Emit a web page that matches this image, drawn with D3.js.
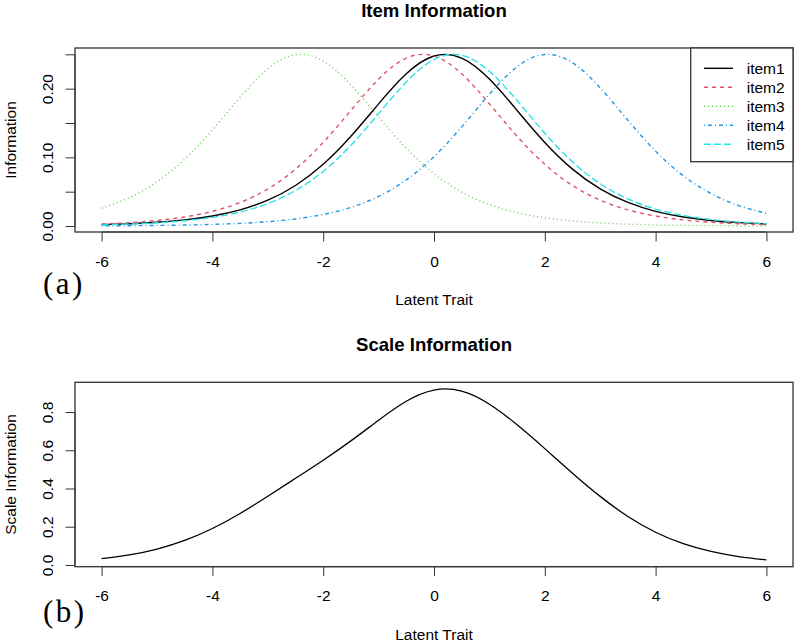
<!DOCTYPE html>
<html>
<head>
<meta charset="utf-8">
<script src="https://cdn.jsdelivr.net/npm/d3@7"></script>
<style>
  html, body { margin: 0; padding: 0; background: #fff; }
  svg { display: block; }
  text { font-family: "Liberation Sans", Arial, sans-serif; fill: #000; }
</style>
</head>
<body>
<svg id="chart" width="796" height="642"></svg>
<script>
// ---- data ----
const theta = [-6,-5.5,-5,-4.5,-4,-3.5,-3,-2.5,-2,-1.5,-1,-0.5,0,0.5,1,1.5,2,2.5,3,3.5,4,4.5,5,5.5,6];
const item1 = [0.0020,0.0033,0.0055,0.0089,0.0146,0.0235,0.0376,0.0590,0.0898,0.1306,0.1779,0.2217,0.2475,0.2445,0.2139,0.1683,0.1217,0.0828,0.0540,0.0343,0.0214,0.0132,0.0081,0.0049,0.0030];
const item2 = [0.0030,0.0049,0.0081,0.0132,0.0214,0.0343,0.0540,0.0828,0.1217,0.1683,0.2139,0.2445,0.2475,0.2217,0.1779,0.1306,0.0898,0.0590,0.0376,0.0235,0.0146,0.0089,0.0055,0.0033,0.0020];
const item3 = [0.0259,0.0412,0.0644,0.0972,0.1398,0.1874,0.2288,0.2494,0.2403,0.2055,0.1587,0.1132,0.0763,0.0494,0.0313,0.0194,0.0120,0.0073,0.0045,0.0027,0.0017,0.0010,0.0006,0.0004,0.0002];
const item4 = [0.0003,0.0005,0.0009,0.0014,0.0024,0.0039,0.0063,0.0103,0.0168,0.0271,0.0432,0.0672,0.1010,0.1444,0.1920,0.2320,0.2498,0.2378,0.2011,0.1539,0.1090,0.0731,0.0473,0.0298,0.0185];
const item5 = [0.0017,0.0029,0.0047,0.0077,0.0126,0.0204,0.0327,0.0517,0.0795,0.1174,0.1635,0.2098,0.2425,0.2486,0.2253,0.1827,0.1352,0.0934,0.0616,0.0394,0.0247,0.0153,0.0094,0.0057,0.0035];
const scaleInfo = [0.0329,0.0528,0.0836,0.1284,0.1908,0.2695,0.3594,0.4532,0.5481,0.6489,0.7572,0.8564,0.9148,0.9086,0.8404,0.7330,0.6085,0.4803,0.3588,0.2538,0.1714,0.1115,0.0709,0.0441,0.0272];

const itemNames = ["item1","item2","item3","item4","item5"];
const itemColors = ["#000000","#DF536B","#61D04F","#2297E6","#28E2E5"];
const itemDashes = ["none","4,4","1,3","1,3,4,3","7,3"];

const xTicks = [-6,-4,-2,0,2,4,6];
const yTicksTop = [0,0.05,0.10,0.15,0.20,0.25];
const yLabelsTop = ["0.00","0.10","0.20"];
const yTicksBottom = [0,0.2,0.4,0.6,0.8];
const yLabelsBottom = ["0.0","0.2","0.4","0.6","0.8"];

// ---- layout ----
const svg = d3.select("#chart");
const L = 75, R = 793;
const FS = 15.5, TFS = 18.6;

const x = d3.scaleLinear().domain([-6.48, 6.48]).range([L, R]);

function panel(top, bottom, yDomain, yTicks, yLabels, yFmt, title, ylab, tag, tagBaseline) {
  const y = d3.scaleLinear().domain(yDomain).range([bottom, top]);
  const g = svg.append("g");

  // x axis
  const xa = g.append("g").attr("transform", `translate(0,${bottom})`)
    .call(d3.axisBottom(x).tickValues(xTicks).tickSize(9.5).tickFormat(d3.format("d")));
  xa.select(".domain").attr("d", `M${x(xTicks[0])},0H${x(xTicks[xTicks.length-1])}`).attr("stroke","#333");
  xa.selectAll(".tick line").attr("stroke","#333");
  xa.selectAll("text").attr("dy", null).attr("y", 34.7)
    .style("font-size", FS + "px").style("font-family", '"Liberation Sans", Arial, sans-serif')
    .text(d => (d < 0 ? "-" + Math.abs(d) : String(d)));

  // y axis
  const ya = g.append("g").attr("transform", `translate(${L},0)`)
    .call(d3.axisLeft(y).tickValues(yTicks).tickSize(9.5).tickFormat(d => {
      const s = yFmt(d); return yLabels.includes(s) ? s : "";
    }));
  ya.select(".domain").attr("d", `M0,${y(yTicks[0])}V${y(yTicks[yTicks.length-1])}`).attr("stroke","#333");
  ya.selectAll(".tick line").attr("stroke","#333");
  ya.selectAll("text").attr("x", null).attr("dy", null)
    .attr("transform", "translate(-22,0) rotate(-90)")
    .attr("text-anchor", "middle")
    .style("font-size", FS + "px").style("font-family", '"Liberation Sans", Arial, sans-serif');

  // box
  g.append("rect").attr("x", L).attr("y", top).attr("width", R - L).attr("height", bottom - top)
    .attr("fill", "none").attr("stroke", "#333").attr("stroke-width", 1.3);

  // title
  g.append("text").attr("x", (L + R) / 2).attr("y", top - 31).attr("text-anchor", "middle")
    .style("font-size", TFS + "px").style("font-weight", "bold").text(title);

  // x label
  g.append("text").attr("x", (L + R) / 2).attr("y", bottom + 72.8).attr("text-anchor", "middle")
    .style("font-size", FS + "px").text("Latent Trait");

  // y label
  g.append("text").attr("transform", `translate(16,${(top + bottom) / 2}) rotate(-90)`)
    .attr("text-anchor", "middle").style("font-size", FS + "px").text(ylab);

  // tag
  g.append("text").attr("x", 43).attr("y", tagBaseline)
    .style("font-family", '"Liberation Serif", "DejaVu Serif", serif')
    .style("font-size", "31px").style("letter-spacing", "2.5px").text(tag);

  return y;
}

// Top panel
const yTop = panel(48, 232, [-0.0087, 0.2592], yTicksTop, yLabelsTop, d3.format(".2f"),
  "Item Information", "Information", "(a)", 294);

const items = [item1, item2, item3, item4, item5];
const lineTop = d3.line().x(d => x(d[0])).y(d => yTop(d[1])).curve(d3.curveNatural);
items.forEach((vals, i) => {
  svg.append("path")
    .datum(theta.map((t, j) => [t, vals[j]]))
    .attr("d", lineTop)
    .attr("fill", "none")
    .attr("stroke", itemColors[i])
    .attr("stroke-width", 1.4)
    .attr("stroke-dasharray", itemDashes[i]);
});

// legend
const lg = svg.append("g");
lg.append("rect").attr("x", 690.7).attr("y", 48).attr("width", 793 - 690.7).attr("height", 113.7)
  .attr("fill", "#fff").attr("stroke", "#333").attr("stroke-width", 1.3);
itemNames.forEach((name, i) => {
  const cy = 68.3 + i * 19;
  lg.append("line").attr("x1", 704).attr("x2", 733).attr("y1", cy).attr("y2", cy)
    .attr("stroke", itemColors[i]).attr("stroke-width", 1.4).attr("stroke-dasharray", itemDashes[i]);
  lg.append("text").attr("x", 746.7).attr("y", cy + 5.5).style("font-size", FS + "px").text(name);
});

// Bottom panel
const yBot = panel(382.3, 566.7, [-0.0089, 0.9553], yTicksBottom, yLabelsBottom, d3.format(".1f"),
  "Scale Information", "Scale Information", "(b)", 622);

const lineBot = d3.line().x(d => x(d[0])).y(d => yBot(d[1])).curve(d3.curveNatural);
svg.append("path")
  .datum(theta.map((t, j) => [t, scaleInfo[j]]))
  .attr("d", lineBot)
  .attr("fill", "none")
  .attr("stroke", "#000")
  .attr("stroke-width", 1.3);
</script>
</body>
</html>
